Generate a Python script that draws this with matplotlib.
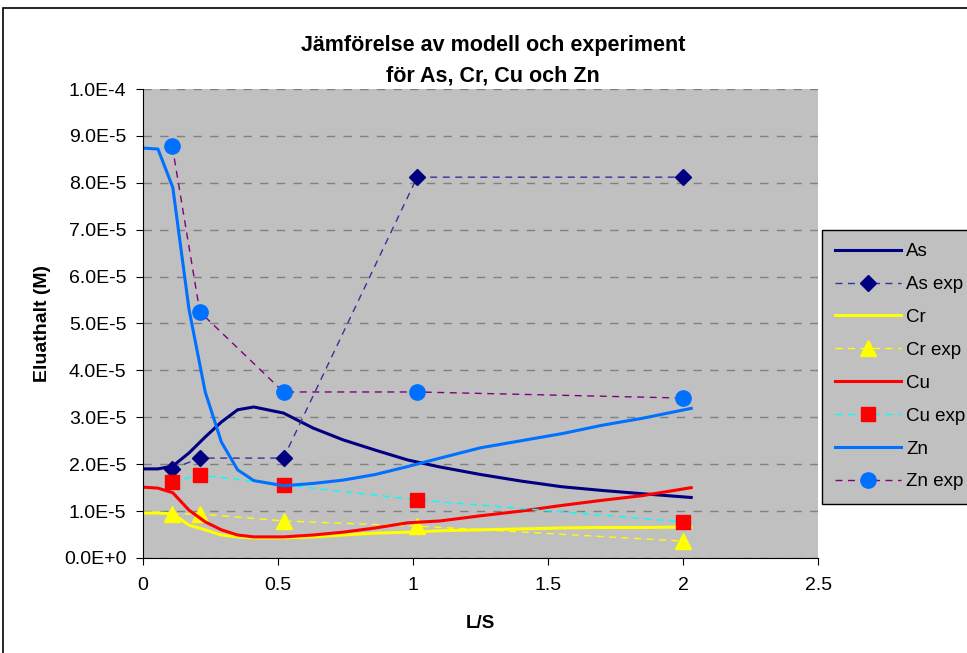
import matplotlib.pyplot as plt
from matplotlib.ticker import FuncFormatter, MultipleLocator
from matplotlib.patches import Rectangle

plt.rcParams['font.family'] = ['Liberation Sans', 'DejaVu Sans']

# model curves (L/S grid)
ls_model = [0, 0.055, 0.11, 0.17, 0.23, 0.29, 0.35, 0.41, 0.52, 0.63, 0.74, 0.86,
            0.98, 1.1, 1.25, 1.4, 1.55, 1.7, 1.85, 2.03]
as_model = [1.90, 1.90, 1.96, 2.24, 2.58, 2.90, 3.16, 3.22, 3.09, 2.77, 2.52, 2.30,
            2.09, 1.94, 1.78, 1.64, 1.52, 1.44, 1.37, 1.29]
cr_model = [0.96, 0.96, 0.94, 0.70, 0.60, 0.49, 0.45, 0.43, 0.43, 0.45, 0.49, 0.53,
            0.55, 0.58, 0.60, 0.62, 0.64, 0.65, 0.65, 0.66]
cu_model = [1.51, 1.49, 1.39, 1.02, 0.77, 0.60, 0.49, 0.45, 0.45, 0.49, 0.55, 0.64,
            0.75, 0.79, 0.90, 1.00, 1.12, 1.23, 1.33, 1.50]
zn_model = [8.74, 8.72, 7.90, 5.30, 3.54, 2.47, 1.88, 1.65, 1.54, 1.59, 1.66, 1.78,
            1.95, 2.13, 2.35, 2.50, 2.65, 2.83, 2.98, 3.19]

# experimental points
ls_exp = [0.108, 0.21, 0.52, 1.015, 2.0]
as_exp = [1.90, 2.13, 2.13, 8.12, 8.12]
cr_exp = [0.94, 0.94, 0.79, 0.68, 0.36]
cu_exp = [1.62, 1.77, 1.56, 1.24, 0.77]
zn_exp = [8.78, 5.25, 3.54, 3.54, 3.41]

scale = 1e-5

fig = plt.figure(figsize=(9.67, 6.53), dpi=100)
fig.patches.append(Rectangle((0.003, -0.01), 1.0, 0.998, transform=fig.transFigure,
                             fill=False, edgecolor='black', linewidth=1.2))
ax = fig.add_axes([0.148, 0.1455, 0.698, 0.7182])
ax.set_facecolor('#C0C0C0')

s = lambda v: [x * scale for x in v]
ax.plot(ls_model, s(as_model), color='#000080', lw=2.2, label='As')
ax.plot(ls_exp, s(as_exp), color='#333399', ls=(0, (5, 4)), lw=1, marker='D',
        ms=8, mfc='#000080', mec='#000080', label='As exp')
ax.plot(ls_model, s(cr_model), color='#FFFF00', lw=2.2, label='Cr')
ax.plot(ls_exp, s(cr_exp), color='#FFFF00', ls=(0, (5, 4)), lw=1, marker='^',
        ms=11, mfc='#FFFF00', mec='#FFFF00', label='Cr exp')
ax.plot(ls_model, s(cu_model), color='#FF0000', lw=2.2, label='Cu')
ax.plot(ls_exp, s(cu_exp), color='#00FFFF', ls=(0, (5, 4)), lw=1, marker='s',
        ms=10, mfc='#FF0000', mec='#FF0000', label='Cu exp')
ax.plot(ls_model, s(zn_model), color='#0070FF', lw=2.2, label='Zn')
ax.plot(ls_exp, s(zn_exp), color='#800080', ls=(0, (5, 4)), lw=1, marker='o',
        ms=11, mfc='#0070FF', mec='#0070FF', label='Zn exp')

ax.set_xlim(0, 2.5)
ax.set_ylim(0, 1e-4)
ax.xaxis.set_major_locator(MultipleLocator(0.5))
ax.yaxis.set_major_locator(MultipleLocator(1e-5))
ax.xaxis.set_major_formatter(FuncFormatter(lambda v, p: f'{v:g}'))


def sci(v, p):
    if abs(v) < 1e-12:
        return '0.0E+0'
    e = int(f'{v:e}'.split('e')[1])
    m = v / 10 ** e
    return f'{m:.1f}E{e:d}'


ax.yaxis.set_major_formatter(FuncFormatter(sci))
ax.tick_params(labelsize=14, direction='out', length=5, color='black')
ax.tick_params(axis='x', pad=9)
ax.tick_params(axis='y', pad=7)
ax.grid(axis='y', color='#808080', ls=(0, (6, 6)), lw=1)
ax.set_axisbelow(True)
for sp in ax.spines.values():
    sp.set_visible(False)
ax.spines['left'].set_visible(True)
ax.spines['bottom'].set_visible(True)

ax.set_xlabel('L/S', fontsize=13.5, fontweight='bold', va='center')
ax.set_ylabel('Eluathalt (M)', fontsize=14, fontweight='bold', va='center')
ax.xaxis.set_label_coords(0.5, -0.1407)
ax.yaxis.set_label_coords(-0.1496, 0.5)

fig.text(0.51, 1 - 45 / 653, 'Jämförelse av modell och experiment',
         ha='center', va='center', fontsize=15.5, fontweight='bold')
fig.text(0.51, 1 - 76 / 653, 'för As, Cr, Cu och Zn',
         ha='center', va='center', fontsize=15.5, fontweight='bold')

leg = fig.legend(loc='upper left', bbox_to_anchor=(822 / 967, 1 - 230 / 653),
                 fontsize=13.5, frameon=True, fancybox=False, edgecolor='black',
                 facecolor='#C0C0C0', framealpha=1, handlelength=3.5,
                 handletextpad=0.3, labelspacing=0.84, borderaxespad=0,
                 borderpad=0.7)
leg.get_frame().set_linewidth(1)

fig.savefig('out.png', dpi=100)
